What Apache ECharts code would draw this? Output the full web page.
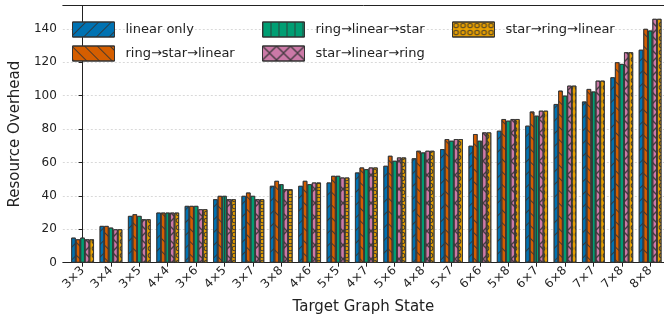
<!DOCTYPE html>
<html><head><meta charset="utf-8">
<script src="https://cdn.jsdelivr.net/npm/echarts@6/dist/echarts.min.js"></script>
<style>html,body{margin:0;padding:0;background:#fff}#c{width:664px;height:322px}</style>
</head><body><div id="c"></div>
<script>
const categories = ['3×3','3×4','3×5','4×4','3×6','4×5','3×7','3×8','4×6','5×5','4×7','5×6','4×8','5×7','6×6','5×8','6×7','6×8','7×7','7×8','8×8'];
const seriesNames = ['linear only','ring→star→linear','ring→linear→star','star→linear→ring','star→ring→linear'];
const linearOnly      = [15,22,28,30,34,38,40,46,46,48,54,58,62.5,68,70,79,82,95,96.5,111,127.5];
const ringStarLinear  = [14,22,29,30,34,40,42,49,49,52,57,64,67,74,77,86,90.5,103,104,120,140];
const ringLinearStar  = [15,21,28,30,34,40,40,47,47,52,56,61,66,73,73,85,88,100,102.5,119,139];
const starLinearRing  = [14,20,26,30,32,38,38,44,48,51,57,63,67,74,78,86,91,106,109,126,146];
const starRingLinear  = [14,20,26,30,32,38,38,44,48,51,57,63,67,74,78,86,91,106,109,126,146];
const yTicks = [0,20,40,60,80,100,120,140];

const allValues = [linearOnly, ringStarLinear, ringLinearStar, starLinearRing, starRingLinear];
const colors = ['#0072B2','#D55E00','#009E73','#CC79A7','#E69F00'];
const hatch = 'rgba(50,50,50,0.85)';
const ring = 'path://M0,5A5,5,0,1,1,10,5A5,5,0,1,1,0,5ZM1.8,5A3.2,3.2,0,1,0,8.2,5A3.2,3.2,0,1,0,1.8,5Z';
const cross = 'path://M0,0L1,0L14,13L14,14L13,14L0,1ZM13,0L14,0L14,1L1,14L0,14L0,13Z';
const decals = [
  {symbol:'rect', symbolSize:1, color:hatch, dashArrayX:[1,0], dashArrayY:[0.9,8], rotation:-Math.PI/4},
  {symbol:'rect', symbolSize:1, color:hatch, dashArrayX:[1,0], dashArrayY:[0.9,8], rotation:Math.PI/4},
  {symbol:'rect', symbolSize:1, color:hatch, dashArrayX:[0.9,6.4], dashArrayY:[1,0], rotation:0},
  {symbol:cross, symbolSize:1, symbolKeepAspect:false, color:hatch, dashArrayX:[14,0], dashArrayY:[14,0], rotation:0},
  {symbol:ring, symbolSize:0.8, color:hatch, dashArrayX:[7,0], dashArrayY:[7,0], rotation:0}
];

const idx = categories.map((c,i)=>i);
const series = seriesNames.map((name,k)=>({
  name, type:'bar', xAxisIndex:0,
  data: allValues[k].map((v,i)=>[i, v]),
  barGap:'0%', barCategoryGap:'20%',
  itemStyle:{color:colors[k], borderColor:'#333', borderWidth:0.8, decal:decals[k]},
  emphasis:{disabled:true}, animation:false
}));

const legendBase = {orient:'vertical', icon:'rect', itemWidth:42, itemHeight:15, itemGap:8, padding:0, top:21.5,
  itemStyle:{borderWidth:1, borderColor:'#333'},
  textStyle:{fontFamily:'DejaVu Sans', fontSize:13, color:'#222', lineHeight:15, padding:[0,0,0,6]}};

const xMin = -0.697, xMax = 20.488;
const chart = echarts.init(document.getElementById('c'), null, {renderer:'canvas'});
chart.setOption({
  animation:false,
  backgroundColor:'#fff',
  textStyle:{fontFamily:'DejaVu Sans'},
  grid:{left:56, right:0, top:5.5, bottom:59.3, show:false},
  legend:[
    Object.assign({}, legendBase, {left:72, data:[seriesNames[0], seriesNames[1]]}),
    Object.assign({}, legendBase, {left:262, data:[seriesNames[2], seriesNames[3]]}),
    Object.assign({}, legendBase, {left:452, data:[seriesNames[4]]})
  ],
  xAxis:[{type:'value', min:xMin, max:xMax, position:'bottom',
    name:'Target Graph State', nameLocation:'middle', nameGap:37,
    nameTextStyle:{fontFamily:'DejaVu Sans', fontSize:15, color:'#222'},
    axisLine:{show:true, onZero:false, lineStyle:{color:'#222', width:1}},
    axisTick:{show:true, customValues:idx, length:4, lineStyle:{color:'#222'}},
    axisLabel:{customValues:idx, formatter:(v)=>categories[Math.round(v)], rotate:45, fontSize:12, color:'#222', margin:6, fontFamily:'DejaVu Sans'},
    splitLine:{show:false}},
   {type:'value', min:xMin, max:xMax, position:'top',
    axisLine:{show:true, onZero:false, lineStyle:{color:'#222', width:1}},
    axisTick:{show:false}, axisLabel:{show:false}, splitLine:{show:false}}],
  yAxis:{type:'value', min:0, max:154, interval:20,
    name:'Resource Overhead', nameLocation:'middle', nameGap:34,
    nameTextStyle:{fontFamily:'DejaVu Sans', fontSize:15, color:'#222'},
    axisLine:{show:true, lineStyle:{color:'#222', width:1}},
    axisTick:{show:true, customValues:yTicks, length:4, lineStyle:{color:'#222'}},
    axisLabel:{customValues:yTicks, fontSize:12, color:'#222', margin:6, fontFamily:'DejaVu Sans'},
    splitLine:{show:true, lineStyle:{color:'#d0d0d0', width:0.8, type:[2,2]}}},
  series
});
</script></body></html>
